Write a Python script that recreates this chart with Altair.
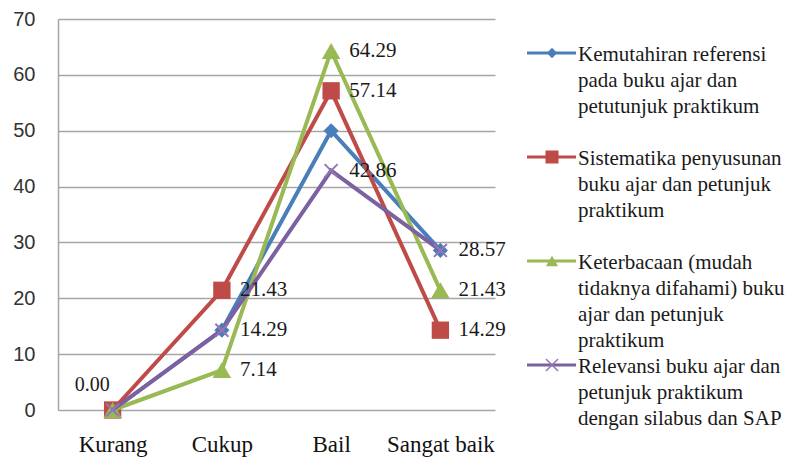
import altair as alt
import pandas as pd

categories = ["Kurang", "Cukup", "Bail", "Sangat baik"]
series_names = [
    "Kemutahiran referensi pada buku ajar dan petutunjuk praktikum",
    "Sistematika penyusunan buku ajar dan petunjuk praktikum",
    "Keterbacaan (mudah tidaknya difahami) buku ajar dan petunjuk praktikum",
    "Relevansi buku ajar dan petunjuk praktikum dengan silabus dan SAP",
]
legend_labels = [
    "Kemutahiran  referensi\npada buku ajar dan\npetutunjuk praktikum",
    "Sistematika penyusunan\nbuku ajar dan petunjuk\npraktikum",
    "Keterbacaan  (mudah\ntidaknya difahami)  buku\najar dan petunjuk\npraktikum",
    " Relevansi buku ajar dan\npetunjuk praktikum\ndengan silabus dan SAP",
]
values_kemutahiran = [0.00, 14.29, 50.00, 28.57]
values_sistematika = [0.00, 21.43, 57.14, 14.29]
values_keterbacaan = [0.00, 7.14, 64.29, 21.43]
values_relevansi = [0.00, 14.29, 42.86, 28.57]
all_values = [values_kemutahiran, values_sistematika, values_keterbacaan, values_relevansi]
y_ticks = [0, 10, 20, 30, 40, 50, 60, 70]
# which series carry a data label at each category (index into series_names)
labeled_series = {"Kurang": [1], "Cukup": [1, 2, 3], "Bail": [1, 2, 3], "Sangat baik": [1, 2, 3]}

colors = ["#4A7EBB", "#BE4B48", "#98B954", "#7D60A0"]
X_PATH = "M-0.75,-0.75L0.75,0.75M-0.75,0.75L0.75,-0.75"
shapes = ["diamond", "square", "triangle-up", X_PATH]
plot_sizes = [230, 300, 340, 300]
legend_sizes = [110, 170, 150, 260]

rows = []
for s, vals in zip(series_names, all_values):
    for c, v in zip(categories, vals):
        rows.append({"series": s, "category": c, "value": v})
df = pd.DataFrame(rows)

label_rows = []
for c in categories:
    for i in labeled_series[c]:
        v = all_values[i][categories.index(c)]
        label_rows.append({"series": series_names[i], "category": c, "value": v,
                           "text": f"{v:.2f}", "first": c == categories[0]})
df_labels = pd.DataFrame(label_rows)

SERIF = "Liberation Serif, Times New Roman, Tinos, DejaVu Serif, serif"
W, H = 437, 391
x_enc = alt.X("category:N", sort=categories,
              scale=alt.Scale(type="point", padding=0.5),
              axis=alt.Axis(title=None, labelAngle=0, domain=False, ticks=False,
                            grid=False, labelFont=SERIF, labelFontSize=23,
                            labelColor="#111111", labelPadding=23))
y_enc = alt.Y("value:Q", scale=alt.Scale(domain=[0, 70]),
              axis=alt.Axis(title=None, values=y_ticks, grid=True,
                            gridColor="#a6a6a6", gridWidth=1.5,
                            domain=True, domainColor="#a6a6a6", domainWidth=1.5,
                            ticks=False, tickSize=0, labelFont="Liberation Sans",
                            labelFontSize=20, labelPadding=23, labelColor="#333333"))

layers = []
for s, col, shp, sz in zip(series_names, colors, shapes, plot_sizes):
    base = alt.Chart(df).transform_filter(alt.datum.series == s)
    layers.append(base.mark_line(strokeWidth=4, color=col).encode(x=x_enc, y=y_enc))
    if shp == X_PATH:
        pt = base.mark_point(filled=False, shape=shp, size=sz, strokeWidth=2, color="#8E78B5", opacity=1)
    else:
        pt = base.mark_point(filled=True, shape=shp, size=sz, color=col, opacity=1)
    layers.append(pt.encode(x=x_enc, y=y_enc))

lab_base = alt.Chart(df_labels)
layers.append(lab_base.transform_filter(~alt.datum.first).mark_text(
    align="left", baseline="middle", dx=18, font=SERIF, fontSize=21, color="#1a1a1a"
).encode(x=x_enc, y=y_enc, text="text:N"))
layers.append(lab_base.transform_filter(alt.datum.first).mark_text(
    align="right", baseline="middle", dx=-3, dy=-25, font=SERIF, fontSize=20, color="#1a1a1a"
).encode(x=x_enc, y=y_enc, text="text:N"))
main = alt.layer(*layers)

# legend drawn to the right of the plot area
legend_df = pd.DataFrame({"idx": list(range(len(series_names))),
                          "series": series_names, "label": legend_labels})
p0 = 34
step = 104
ly = alt.Y("idx:Q", scale=alt.Scale(domain=[-p0 / step, (H - p0) / step], reverse=True), axis=None)
color_scale = alt.Scale(domain=series_names, range=colors)
lc = alt.Color("series:N", scale=color_scale, legend=None)
lbase = alt.Chart(legend_df)
LX = 469
leg_layers = [lbase.mark_rule(strokeWidth=3).encode(x=alt.value(LX), x2=alt.value(LX + 49), y=ly, color=lc)]
for s, col, shp, sz in zip(series_names, colors, shapes, legend_sizes):
    b = lbase.transform_filter(alt.datum.series == s)
    if shp == X_PATH:
        p = b.mark_point(filled=False, shape=shp, size=sz, strokeWidth=1.5, color="#8E78B5", opacity=1)
    else:
        p = b.mark_point(filled=True, shape=shp, size=sz, color=col, opacity=1)
    leg_layers.append(p.encode(x=alt.value(LX + 25), y=ly))
leg_layers.append(lbase.mark_text(align="left", baseline="top", dy=-9, lineBreak="\n",
                                  font=SERIF, fontSize=21, lineHeight=26, color="#1a1a1a"
                                  ).encode(x=alt.value(LX + 51), y=ly, text="label:N"))
legend = alt.layer(*leg_layers)

chart = alt.layer(main, legend).resolve_scale(y="independent").properties(
    width=W, height=H,
    autosize=alt.AutoSizeParams(type="none"),
    padding={"left": 50, "top": 11, "right": 290, "bottom": 48},
).configure_view(stroke=None)

chart.save("out.html", embed_options={"renderer": "svg", "actions": False})
